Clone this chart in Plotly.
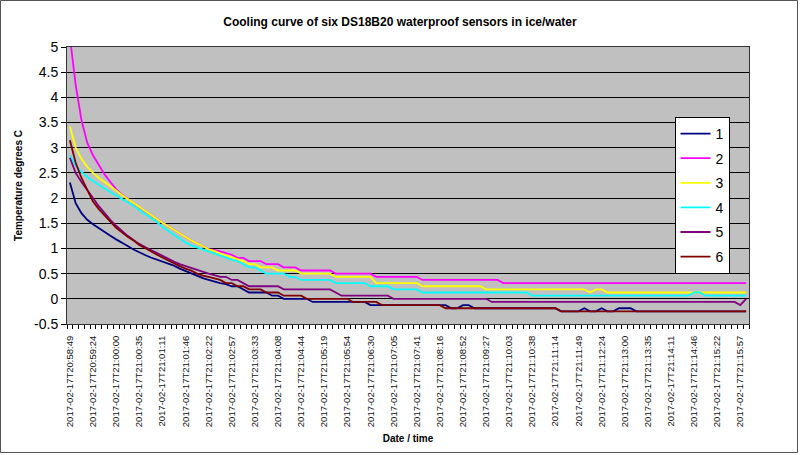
import plotly.graph_objects as go

title_text = "Cooling curve of six DS18B20 waterproof sensors in ice/water"
x_title = "Date / time"
y_title = "Temperature degrees C"

tick_labels = [
    "2017-02-17T20:58:49", "2017-02-17T20:59:24", "2017-02-17T21:00:00", "2017-02-17T21:00:35",
    "2017-02-17T21:01:11", "2017-02-17T21:01:46", "2017-02-17T21:02:22", "2017-02-17T21:02:57",
    "2017-02-17T21:03:33", "2017-02-17T21:04:08", "2017-02-17T21:04:44", "2017-02-17T21:05:19",
    "2017-02-17T21:05:54", "2017-02-17T21:06:30", "2017-02-17T21:07:05", "2017-02-17T21:07:41",
    "2017-02-17T21:08:16", "2017-02-17T21:08:52", "2017-02-17T21:09:27", "2017-02-17T21:10:03",
    "2017-02-17T21:10:38", "2017-02-17T21:11:14", "2017-02-17T21:11:49", "2017-02-17T21:12:24",
    "2017-02-17T21:13:00", "2017-02-17T21:13:35", "2017-02-17T21:14:11", "2017-02-17T21:14:46",
    "2017-02-17T21:15:22", "2017-02-17T21:15:57",
]
samples_per_label = 4

y_tick_values = [-0.5, 0, 0.5, 1, 1.5, 2, 2.5, 3, 3.5, 4, 4.5, 5]
y_tick_labels = ["-0.5", "0", "0.5", "1", "1.5", "2", "2.5", "3", "3.5", "4", "4.5", "5"]

series_names = ["1", "2", "3", "4", "5", "6"]
series_colors = ["#000080", "#FF00FF", "#FFFF00", "#00FFFF", "#800080", "#800000"]

sensor1 = [
    2.31, 1.9, 1.7, 1.57, 1.48, 1.4, 1.32, 1.25, 1.18, 1.12,
    1.05, 0.98, 0.92, 0.87, 0.82, 0.78, 0.74, 0.7, 0.66, 0.6,
    0.55, 0.5, 0.45, 0.41, 0.375, 0.34, 0.31, 0.29, 0.25, 0.25,
    0.1875, 0.125, 0.125, 0.125, 0.125, 0.0625, 0.0625, 0, 0, 0,
    0, 0, -0.0625, -0.0625, -0.0625, -0.0625, -0.0625, -0.0625, -0.0625, -0.0625,
    -0.0625, -0.0625, -0.125, -0.125, -0.125, -0.125, -0.125, -0.125, -0.125, -0.125,
    -0.125, -0.125, -0.125, -0.125, -0.125, -0.125, -0.1875, -0.1875, -0.125, -0.125,
    -0.1875, -0.1875, -0.1875, -0.1875, -0.1875, -0.1875, -0.1875, -0.1875, -0.1875, -0.1875,
    -0.1875, -0.1875, -0.1875, -0.1875, -0.1875, -0.25, -0.25, -0.25, -0.25, -0.1875,
    -0.25, -0.25, -0.1875, -0.25, -0.25, -0.1875, -0.1875, -0.1875, -0.25, -0.25,
    -0.25, -0.25, -0.25, -0.25, -0.25, -0.25, -0.25, -0.25, -0.25, -0.25,
    -0.25, -0.25, -0.25, -0.25, -0.25, -0.25, -0.25, -0.25,
]
sensor2 = [
    5.2, 4.25, 3.55, 3.1, 2.85, 2.65, 2.47, 2.32, 2.18, 2.07,
    1.98, 1.9, 1.82, 1.74, 1.66, 1.58, 1.51, 1.44, 1.37, 1.3,
    1.22, 1.16, 1.1, 1.05, 0.98, 0.97, 0.94, 0.9, 0.875, 0.8125,
    0.8125, 0.75, 0.75, 0.75, 0.6875, 0.6875, 0.6875, 0.625, 0.625, 0.625,
    0.5625, 0.5625, 0.5625, 0.5625, 0.5625, 0.5625, 0.5, 0.5, 0.5, 0.5,
    0.5, 0.5, 0.5, 0.4375, 0.4375, 0.4375, 0.4375, 0.4375, 0.4375, 0.4375,
    0.4375, 0.375, 0.375, 0.375, 0.375, 0.375, 0.375, 0.375, 0.375, 0.375,
    0.375, 0.375, 0.375, 0.375, 0.375, 0.3125, 0.3125, 0.3125, 0.3125, 0.3125,
    0.3125, 0.3125, 0.3125, 0.3125, 0.3125, 0.3125, 0.3125, 0.3125, 0.3125, 0.3125,
    0.3125, 0.3125, 0.3125, 0.3125, 0.3125, 0.3125, 0.3125, 0.3125, 0.3125, 0.3125,
    0.3125, 0.3125, 0.3125, 0.3125, 0.3125, 0.3125, 0.3125, 0.3125, 0.3125, 0.3125,
    0.3125, 0.3125, 0.3125, 0.3125, 0.3125, 0.3125, 0.3125, 0.3125,
]
sensor3 = [
    3.42, 3.0, 2.78, 2.62, 2.5, 2.4, 2.32, 2.24, 2.15, 2.06,
    1.98, 1.9, 1.82, 1.74, 1.66, 1.58, 1.51, 1.44, 1.37, 1.3,
    1.22, 1.16, 1.1, 1.05, 0.98, 0.95, 0.9, 0.86, 0.82, 0.78,
    0.75, 0.6875, 0.6875, 0.625, 0.625, 0.625, 0.5625, 0.5625, 0.5625, 0.5625,
    0.5, 0.5, 0.5, 0.5, 0.5, 0.5, 0.4375, 0.4375, 0.4375, 0.4375,
    0.4375, 0.4375, 0.4375, 0.3125, 0.3125, 0.3125, 0.3125, 0.3125, 0.3125, 0.3125,
    0.3125, 0.25, 0.25, 0.25, 0.25, 0.25, 0.25, 0.25, 0.25, 0.25,
    0.25, 0.25, 0.1875, 0.1875, 0.1875, 0.1875, 0.1875, 0.1875, 0.1875, 0.1875,
    0.1875, 0.1875, 0.1875, 0.1875, 0.1875, 0.1875, 0.1875, 0.1875, 0.1875, 0.1875,
    0.125, 0.1875, 0.1875, 0.125, 0.125, 0.125, 0.125, 0.125, 0.125, 0.125,
    0.125, 0.125, 0.125, 0.125, 0.125, 0.125, 0.125, 0.125, 0.125, 0.125,
    0.125, 0.125, 0.125, 0.125, 0.125, 0.125, 0.125, 0.125,
]
sensor4 = [
    2.85, 2.65, 2.52, 2.42, 2.34, 2.26, 2.19, 2.12, 2.05, 1.98,
    1.92, 1.85, 1.76, 1.68, 1.6, 1.53, 1.43, 1.35, 1.27, 1.19,
    1.12, 1.06, 1.02, 0.98, 0.93, 0.9, 0.86, 0.82, 0.78, 0.75,
    0.6875, 0.625, 0.625, 0.5625, 0.5, 0.5, 0.5, 0.5, 0.4375, 0.4375,
    0.375, 0.375, 0.375, 0.375, 0.375, 0.375, 0.3125, 0.3125, 0.3125, 0.3125,
    0.3125, 0.3125, 0.25, 0.25, 0.25, 0.25, 0.1875, 0.1875, 0.1875, 0.1875,
    0.1875, 0.125, 0.125, 0.125, 0.125, 0.125, 0.125, 0.125, 0.125, 0.125,
    0.125, 0.125, 0.125, 0.125, 0.125, 0.125, 0.125, 0.125, 0.125, 0.125,
    0.0625, 0.0625, 0.0625, 0.0625, 0.0625, 0.0625, 0.0625, 0.0625, 0.0625, 0.0625,
    0.0625, 0.0625, 0.0625, 0.0625, 0.0625, 0.0625, 0.0625, 0.0625, 0.0625, 0.0625,
    0.0625, 0.0625, 0.0625, 0.0625, 0.0625, 0.0625, 0.0625, 0.0625, 0.125, 0.125,
    0.0625, 0.0625, 0.0625, 0.0625, 0.0625, 0.0625, 0.0625, 0.0625,
]
sensor5 = [
    2.8, 2.5, 2.32, 2.15, 2.0, 1.84, 1.7, 1.57, 1.45, 1.34,
    1.25, 1.17, 1.09, 1.03, 0.97, 0.91, 0.85, 0.79, 0.74, 0.69,
    0.65, 0.61, 0.57, 0.53, 0.5, 0.47, 0.4375, 0.4375, 0.375, 0.375,
    0.3125, 0.25, 0.25, 0.25, 0.25, 0.25, 0.25, 0.1875, 0.1875, 0.1875,
    0.1875, 0.1875, 0.1875, 0.1875, 0.1875, 0.1875, 0.125, 0.0625, 0.0625, 0.0625,
    0.0625, 0.0625, 0.0625, 0.0625, 0.0625, 0.0625, 0, 0, 0, 0,
    0, 0, 0, 0, 0, 0, 0, 0, 0, 0,
    0, 0, 0, -0.0625, -0.0625, -0.0625, -0.0625, -0.0625, -0.0625, -0.0625,
    -0.0625, -0.0625, -0.0625, -0.0625, -0.0625, -0.0625, -0.0625, -0.0625, -0.0625, -0.0625,
    -0.0625, -0.0625, -0.0625, -0.0625, -0.0625, -0.0625, -0.0625, -0.0625, -0.0625, -0.0625,
    -0.0625, -0.0625, -0.0625, -0.0625, -0.0625, -0.0625, -0.0625, -0.0625, -0.0625, -0.0625,
    -0.0625, -0.0625, -0.0625, -0.0625, -0.0625, -0.0625, -0.125, 0,
]
sensor6 = [
    3.15, 2.7, 2.4, 2.15, 1.93, 1.78, 1.65, 1.52, 1.41, 1.32,
    1.23, 1.16, 1.07, 1.01, 0.94, 0.88, 0.82, 0.76, 0.7, 0.65,
    0.6, 0.56, 0.5, 0.46, 0.4375, 0.4, 0.375, 0.3125, 0.3125, 0.25,
    0.25, 0.1875, 0.1875, 0.1875, 0.125, 0.125, 0.125, 0.0625, 0.0625, 0.0625,
    0.0625, 0, 0, 0, 0, 0, 0, 0, 0, -0.0625,
    -0.0625, -0.0625, -0.0625, -0.0625, -0.125, -0.125, -0.125, -0.125, -0.125, -0.125,
    -0.125, -0.125, -0.125, -0.125, -0.125, -0.1875, -0.1875, -0.1875, -0.1875, -0.1875,
    -0.1875, -0.1875, -0.1875, -0.1875, -0.1875, -0.1875, -0.1875, -0.1875, -0.1875, -0.1875,
    -0.1875, -0.1875, -0.1875, -0.1875, -0.1875, -0.25, -0.25, -0.25, -0.25, -0.25,
    -0.25, -0.25, -0.25, -0.25, -0.25, -0.25, -0.25, -0.25, -0.25, -0.25,
    -0.25, -0.25, -0.25, -0.25, -0.25, -0.25, -0.25, -0.25, -0.25, -0.25,
    -0.25, -0.25, -0.25, -0.25, -0.25, -0.25, -0.25, -0.25,
]

all_series = [sensor1, sensor2, sensor3, sensor4, sensor5, sensor6]
n_samples = len(sensor1)
sample_index = list(range(n_samples))
label_positions = [k * samples_per_label for k in range(len(tick_labels))]

fig = go.Figure()
for name, color, values in zip(series_names, series_colors, all_series):
    fig.add_trace(go.Scatter(
        x=sample_index, y=values, mode="lines", name=name, legendgroup=name,
        line=dict(color=color, width=1.8), hoverinfo="skip",
    ))

W, H = 800, 455
L, R, T, B = 67, 51, 47, 131
pw, ph = W - L - R, H - T - B

fig.update_layout(
    width=W, height=H,
    margin=dict(l=L, r=R, t=T, b=B, pad=0),
    paper_bgcolor="white",
    plot_bgcolor="#C0C0C0",
    font=dict(family="Arial, Liberation Sans, sans-serif", color="black"),
    title=dict(text="<b>" + title_text + "</b>", x=0.5, xref="container", xanchor="center",
               y=1 - 22 / H, yref="container", yanchor="middle",
               font=dict(size=12, family="Arial, Liberation Sans, sans-serif", color="black")),
    showlegend=True,
    legend=dict(
        x=(702 - L) / pw, y=(H - B - 117) / ph, xanchor="center", yanchor="top",
        bgcolor="white", bordercolor="black", borderwidth=1,
        font=dict(size=14, color="black"), tracegroupgap=3.4,
        itemwidth=30, traceorder="grouped",
    ),
    xaxis=dict(
        range=[-0.5, n_samples - 0.5],
        tickmode="array", tickvals=label_positions, ticktext=tick_labels,
        tickangle=-90, tickfont=dict(size=9.5, color="#111"),
        ticks="", ticklabelstandoff=7,
        minor=dict(tickmode="linear", tick0=-0.5, dtick=1, ticks="outside",
                   ticklen=4, tickwidth=1, tickcolor="black", showgrid=False),
        showgrid=False, zeroline=False,
        showline=True, linecolor="#333", linewidth=1, mirror=True,
        title=dict(text="<b>" + x_title + "</b>", font=dict(size=10), standoff=8),
    ),
    yaxis=dict(
        range=[-0.5, 5],
        tickmode="array", tickvals=y_tick_values, ticktext=y_tick_labels,
        ticks="outside", ticklen=5, tickcolor="black", tickwidth=1,
        tickfont=dict(size=14),
        showgrid=True, gridcolor="black", gridwidth=1,
        zeroline=False,
        showline=True, linecolor="#333", linewidth=1, mirror=True,
        title=dict(text="<b>" + y_title + "</b>", font=dict(size=10), standoff=9),
    ),
    shapes=[dict(
        type="rect", xref="paper", yref="paper", layer="below",
        x0=(0.5 - L) / pw, x1=(797.5 - L) / pw,
        y0=(H - B - 452.5) / ph, y1=(H - B - 0.5) / ph,
        line=dict(color="#555", width=1), fillcolor="rgba(0,0,0,0)",
    )],
)

fig.write_html("out.html")
